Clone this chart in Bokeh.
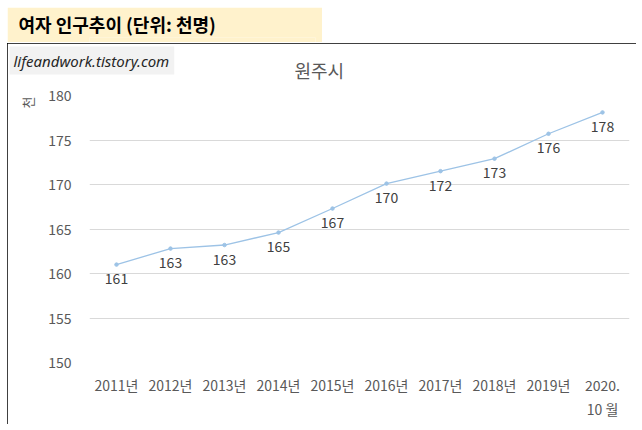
from bokeh.plotting import figure
from bokeh.layouts import column
from bokeh.models import ColumnDataSource, FactorRange, Range1d, Title, FixedTicker
from bokeh.core.properties import value
from bokeh.embed import file_html
from bokeh.resources import INLINE

# 여자 인구 (천명), 원주시
years = ["2011년", "2012년", "2013년", "2014년", "2015년", "2016년",
         "2017년", "2018년", "2019년", "2020.\n10 월"]
women = [161.0, 162.8, 163.2, 164.6, 167.3, 170.1, 171.5, 172.9, 175.7, 178.1]
y_ticks = [150, 155, 160, 165, 170, 175, 180]

KR = "Noto Sans CJK KR"


def build_header():
    h = figure(width=315, height=35, margin=(7, 0, 1, 7),
               x_axis_location=None, y_axis_location=None,
               min_border_left=0, min_border_right=0,
               min_border_top=30, min_border_bottom=0,
               output_backend="svg", toolbar_location=None)
    h.background_fill_color = "#fff2cc"
    h.border_fill_color = "#fff2cc"
    h.outline_line_color = None
    h.grid.visible = False
    h.title.text = "여자 인구추이 (단위: 천명)"
    h.title.align = "left"
    h.title.offset = -71  # frames of the column are aligned with the chart's
    h.title.standoff = 1
    h.title.text_font = KR
    h.title.text_font_style = "bold"
    h.title.text_font_size = "18px"
    h.title.text_color = "black"
    return h


def build_chart():
    source = ColumnDataSource(data=dict(
        year=years,
        women=women,
        label=["%.0f" % v for v in women],
    ))

    p = figure(x_range=FactorRange(*years, range_padding=0),
               y_range=Range1d(y_ticks[0], y_ticks[-1]),
               width=629, height=381, margin=(0, 0, 0, 7),
               min_border_left=82, min_border_right=7,
               min_border_top=52, min_border_bottom=62,
               output_backend="svg", toolbar_location=None)
    p.styles = {"outline": "1px solid black", "outline-offset": "-1px"}
    p.outline_line_color = None
    p.xgrid.grid_line_color = None
    p.ygrid.grid_line_color = "#d9d9d9"
    p.ygrid.grid_line_width = 1

    p.yaxis.ticker = FixedTicker(ticks=y_ticks)
    p.yaxis.axis_line_color = None
    p.yaxis.major_tick_line_color = None
    p.yaxis.minor_tick_line_color = None
    p.yaxis.major_tick_out = 0
    p.yaxis.major_label_standoff = 18
    p.yaxis.major_label_text_font = KR
    p.yaxis.major_label_text_font_size = "14px"
    p.yaxis.major_label_text_color = "#595959"

    p.xaxis.axis_line_color = None
    p.xaxis.major_tick_line_color = None
    p.xaxis.major_tick_out = 0
    p.xaxis.major_label_standoff = 12
    p.xaxis.major_label_text_font = KR
    p.xaxis.major_label_text_font_size = "14px"
    p.xaxis.major_label_text_color = "#595959"

    # chart title nearest the frame, watermark pulled down beside it
    p.add_layout(Title(text="원주시", align="left", offset=205, standoff=22,
                       vertical_align="top",
                       text_font=KR, text_font_size="18px",
                       text_font_style="normal", text_color="#595959"), "above")
    p.add_layout(Title(text="lifeandwork.tistory.com", align="left", offset=-80,
                       standoff=-58, text_font="Noto Sans", text_font_style="italic",
                       text_font_size="15px", text_color="#262626",
                       background_fill_color="#f2f2f2", padding=(4, 5, 4, 4)),
                 "above")
    p.add_layout(Title(text="천", align="right", offset=1, standoff=17,
                       text_font=KR, text_font_size="13px",
                       text_font_style="normal", text_color="#595959"), "left")

    p.line(x="year", y="women", source=source, line_color="#9dc3e6", line_width=1.3)
    p.scatter(x="year", y="women", source=source, size=3.5,
              fill_color="#9dc3e6", line_color="#9dc3e6")
    p.text(x="year", y="women", text="label", source=source, y_offset=14,
           text_font=value(KR), text_font_size="14px", text_color="#404040",
           text_align="center", text_baseline="middle")
    return p


layout = column(build_header(), build_chart(), spacing=0)
open("out.html", "w").write(file_html(layout, INLINE))
